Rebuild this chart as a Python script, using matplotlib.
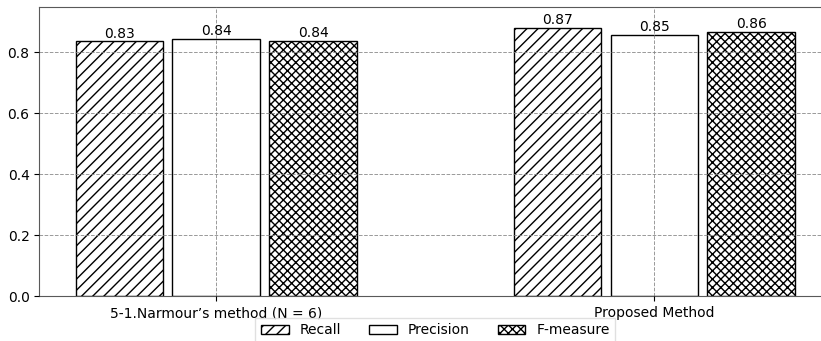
import numpy as np
import matplotlib
matplotlib.use('Agg')
import matplotlib.pyplot as plt

# Data
methods = ["5-1.Narmour\u2019s method (N = 6)", 'Proposed Method']
recall = [0.836, 0.879]
precision = [0.843, 0.856]
fmeasure = [0.838, 0.866]
recall_labels = ['0.83', '0.87']
precision_labels = ['0.84', '0.85']
fmeasure_labels = ['0.84', '0.86']

series = [
    ('Recall', recall, recall_labels, '///'),
    ('Precision', precision, precision_labels, ''),
    ('F-measure', fmeasure, fmeasure_labels, 'xxxx'),
]

fig = plt.figure(figsize=(8.21, 3.41), dpi=100)
ax = fig.add_axes([39.3 / 821, 1 - 296.3 / 341, 792 / 821, 289.6 / 341])

x = np.arange(len(methods))
width = 0.2
offsets = [-0.221, 0.0, 0.221]

for (name, vals, labels, hatch), off in zip(series, offsets):
    bars = ax.bar(x + off, vals, width, label=name, color='white',
                  edgecolor='black', hatch=hatch, linewidth=1, zorder=2)
    for b, v, lab in zip(bars, vals, labels):
        ax.text(b.get_x() + b.get_width() / 2, v + 0.003, lab,
                ha='center', va='bottom', fontsize=10, zorder=4)

ax.set_xticks(x)
ax.set_xticklabels(methods, fontsize=10)
ax.set_xlim(-0.404, 1.404)
ax.set_ylim(0, 0.95)
ax.set_yticks([0.0, 0.2, 0.4, 0.6, 0.8])
ax.tick_params(labelsize=10)
ax.set_axisbelow(False)
ax.grid(True, linestyle='--', color='gray', linewidth=0.7, alpha=0.8, zorder=3)
for s in ax.spines.values():
    s.set_color('0.35')

ax.legend(loc='upper center', bbox_to_anchor=(0.5, -0.05), ncol=3,
          fontsize=10, fancybox=False, edgecolor='0.85', handlelength=2.0,
          columnspacing=2.0)

fig.savefig('out.png', dpi=100)
